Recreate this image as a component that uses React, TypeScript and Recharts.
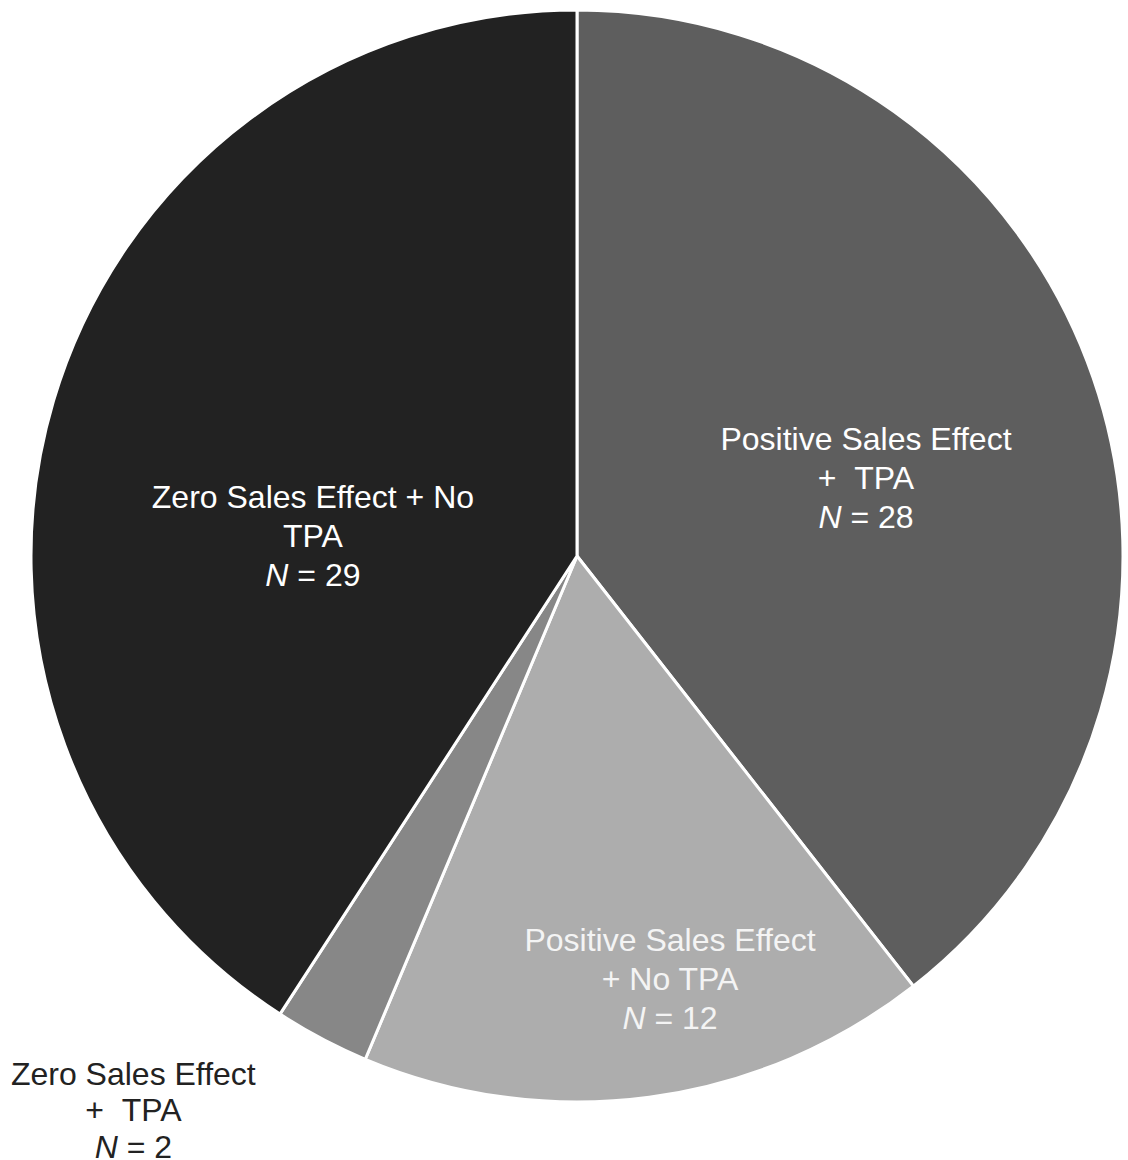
import React from 'react'
import { PieChart, Pie, Cell } from 'recharts'

// slice order clockwise from 12 o'clock
const groups = ['Positive Sales Effect + TPA', 'Positive Sales Effect + No TPA', 'Zero Sales Effect + TPA', 'Zero Sales Effect + No TPA']
const counts = [28, 12, 2, 29]
const labelLines = [
	['Positive Sales Effect', '+\u00a0\u00a0TPA'],
	['Positive Sales Effect', '+ No TPA'],
	['Zero Sales Effect', '+\u00a0\u00a0TPA'],
	['Zero Sales Effect + No', 'TPA']
]

const colors = ['#5e5e5e', '#adadad', '#878787', '#222222']
const textColors = ['#ffffff', '#f4f4f4', '#222222', '#ffffff']
// label placement: fraction of outer radius, angle shift from slice middle, line height
const labelPlace = [
	{ r: 0.548, da: -4, lh: 39 },
	{ r: 0.793, da: 4.8, lh: 39 },
	{ r: 1.3, da: -10.8, lh: 36.5 },
	{ r: 0.485, da: 12.2, lh: 39 }
]

const data = groups.map((g, i) => ({ name: g, value: counts[i] }))

const RAD = Math.PI / 180
const FONT = '"Liberation Sans", Arial, sans-serif'

const renderLabel = (props: any) => {
	const { cx, cy, midAngle, outerRadius, index } = props
	const p = labelPlace[index]
	const a = (midAngle + p.da) * RAD
	const r = outerRadius * p.r
	const x = cx + r * Math.cos(a)
	const y = cy - r * Math.sin(a)
	const lines = labelLines[index]
	const lh = p.lh
	const top = y - lh
	return (
		<text x={x} y={top} textAnchor="middle" dominantBaseline="central" fill={textColors[index]} fontFamily={FONT} fontSize={32}>
			<tspan x={x} y={top}>{lines[0]}</tspan>
			<tspan x={x} y={top + lh}>{lines[1]}</tspan>
			<tspan x={x} y={top + lh * 2}>
				<tspan fontStyle="italic">N</tspan>
				{' = ' + counts[index]}
			</tspan>
		</text>
	)
}

export default function App() {
	return (
		<div style={{ position: 'absolute', left: 0, top: 0, width: 1128, height: 1160, background: '#fff' }}>
			<PieChart width={1128} height={1160} margin={{ top: 0, right: 0, bottom: 0, left: 0 }}>
				<Pie
					data={data}
					dataKey="value"
					nameKey="name"
					cx={577}
					cy={556}
					outerRadius={546}
					startAngle={90}
					endAngle={-270}
					stroke="#ffffff"
					strokeWidth={3}
					label={renderLabel}
					labelLine={false}
					isAnimationActive={false}
				>
					{data.map((d, i) => (
						<Cell key={d.name} fill={colors[i]} />
					))}
				</Pie>
			</PieChart>
		</div>
	)
}
